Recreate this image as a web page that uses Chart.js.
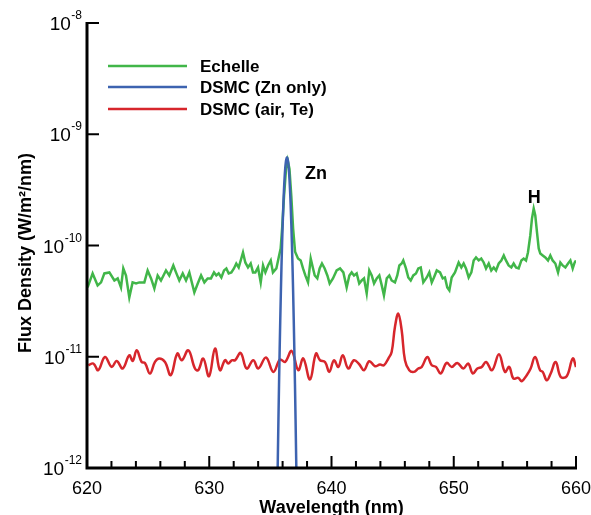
<!DOCTYPE html>
<html>
<head>
<meta charset="utf-8">
<script src="https://cdn.jsdelivr.net/npm/chart.js@4/dist/chart.umd.min.js"></script>
<style>
  html, body { margin: 0; padding: 0; background: #fff; overflow: hidden; }
  canvas { display: block; }
</style>
</head>
<body>
<canvas id="c" width="591" height="515"></canvas>
<script>
// ---------------- DATA ----------------
const seriesNames = ['Echelle', 'DSMC (Zn only)', 'DSMC (air, Te)'];

const echelleWl = [
  620.05,620.46,620.87,621.15,621.42,621.83,622.24,622.51,622.78,622.97,
  623.19,623.46,623.73,624.01,624.28,624.69,624.96,625.24,625.51,625.78,
  626.05,626.46,626.73,627.06,627.28,627.55,627.83,628.10,628.37,628.78,
  629.06,629.33,629.60,629.87,630.14,
  630.39,630.58,630.77,630.99,631.21,631.40,631.59,631.81,632.02,632.21,
  632.41,632.62,632.76,632.95,633.17,633.39,633.58,633.77,633.99,634.21,
  634.40,634.59,634.81,635.03,635.21,635.49,635.68,635.84,635.96,636.12,
  636.27,636.42,636.56,636.71,636.86,637.02,637.26,637.48,637.67,637.86,
  638.08,638.30,638.49,638.63,638.84,639.03,639.22,639.44,639.66,639.85,
  640.12,
  640.42,640.70,640.97,641.24,641.46,641.65,641.84,642.06,642.27,642.47,
  642.66,642.88,643.09,643.29,643.48,643.70,643.91,644.11,644.29,644.52,
  644.73,644.92,645.19,645.38,645.55,645.74,645.87,646.09,646.28,646.48,
  646.69,646.91,647.10,647.30,647.51,647.79,648.00,648.20,648.38,648.61,
  648.88,649.10,649.28,649.47,649.64,649.83,650.10,
  650.40,650.62,650.81,651.00,651.22,651.44,651.63,651.82,652.04,652.25,
  652.45,652.64,652.86,653.07,653.27,653.46,653.68,653.89,654.09,654.27,
  654.49,654.71,654.90,655.09,655.31,655.53,655.72,655.91,656.07,656.26,
  656.40,656.54,656.67,656.81,656.95,657.08,657.28,657.49,657.71,657.90,
  658.09,658.31,658.53,658.72,658.91,659.13,659.35,659.54,659.73,659.89,
  660.00
];
const echelleFlux = [
  4.20e-11,5.61e-11,4.38e-11,4.66e-11,5.61e-11,5.73e-11,4.85e-11,5.06e-11,4.20e-11,6.22e-11,
  5.38e-11,3.42e-11,4.66e-11,4.56e-11,4.66e-11,4.66e-11,5.97e-11,5.06e-11,4.11e-11,5.38e-11,
  4.85e-11,5.97e-11,5.38e-11,6.62e-11,5.73e-11,4.85e-11,5.61e-11,4.85e-11,5.73e-11,3.79e-11,
  4.56e-11,5.38e-11,4.66e-11,5.06e-11,5.06e-11,
  5.73e-11,5.38e-11,5.61e-11,5.16e-11,5.97e-11,6.22e-11,5.61e-11,5.73e-11,6.22e-11,6.89e-11,
  6.35e-11,7.64e-11,8.65e-11,7.04e-11,6.35e-11,6.89e-11,5.73e-11,5.73e-11,6.35e-11,4.66e-11,
  6.62e-11,5.73e-11,6.62e-11,7.34e-11,5.73e-11,6.22e-11,7.80e-11,9.40e-11,1.42e-10,2.81e-10,
  4.71e-10,5.78e-10,4.90e-10,2.81e-10,1.42e-10,8.80e-11,7.64e-11,7.34e-11,6.22e-11,5.38e-11,
  4.66e-11,7.64e-11,6.22e-11,5.38e-11,5.06e-11,6.22e-11,6.89e-11,6.22e-11,5.38e-11,4.56e-11,
  5.06e-11,
  5.97e-11,6.22e-11,5.73e-11,4.20e-11,5.38e-11,5.73e-11,5.38e-11,5.61e-11,4.56e-11,4.85e-11,
  5.06e-11,3.71e-11,5.97e-11,5.38e-11,4.56e-11,5.06e-11,5.38e-11,4.38e-11,3.56e-11,5.06e-11,
  5.38e-11,4.85e-11,4.66e-11,5.38e-11,6.62e-11,6.89e-11,7.34e-11,6.22e-11,5.16e-11,4.85e-11,
  5.38e-11,5.61e-11,6.22e-11,6.35e-11,4.66e-11,5.16e-11,5.73e-11,4.66e-11,5.16e-11,5.97e-11,
  5.73e-11,5.06e-11,5.16e-11,4.20e-11,3.95e-11,5.16e-11,5.73e-11,
  7.04e-11,6.35e-11,6.89e-11,6.22e-11,5.16e-11,5.73e-11,7.34e-11,7.80e-11,7.34e-11,7.64e-11,
  7.04e-11,6.22e-11,6.89e-11,5.97e-11,6.35e-11,5.97e-11,6.89e-11,7.34e-11,8.13e-11,7.34e-11,
  6.62e-11,6.35e-11,6.89e-11,6.35e-11,6.22e-11,7.34e-11,7.64e-11,7.34e-11,8.65e-11,1.23e-10,
  1.75e-10,2.15e-10,1.86e-10,1.31e-10,9.40e-11,8.47e-11,8.13e-11,7.80e-11,7.34e-11,8.13e-11,
  7.34e-11,6.89e-11,5.73e-11,7.04e-11,6.62e-11,6.35e-11,6.89e-11,7.34e-11,6.22e-11,7.04e-11,
  7.34e-11
];

const zincWl = [
  635.36,635.46,635.56,635.66,635.76,635.86,635.96,636.06,636.16,636.26,636.36,
  636.46,636.56,636.66,636.76,636.86,636.96,637.06,637.16,637.26,637.36
];
const zincFlux = [
  9.8e-15,8.0e-14,5.2e-13,2.75e-12,1.16e-11,3.9e-11,1.06e-10,2.3e-10,4.0e-10,5.55e-10,6.2e-10,
  5.55e-10,4.0e-10,2.3e-10,1.06e-10,3.9e-11,1.16e-11,2.75e-12,5.2e-13,8.0e-14,9.8e-15
];

const airWl = [
  620.11,620.52,620.92,621.47,622.02,622.43,622.92,623.46,623.74,624.07,
  624.47,624.74,625.15,625.56,625.91,626.38,626.85,627.39,627.75,628.29,
  628.83,629.10,629.51,629.98,630.47,630.88,631.29,631.56,631.84,632.11,
  632.57,633.06,633.60,634.01,634.64,635.24,635.79,636.20,636.74,637.28,
  637.69,638.24,638.73,639.06,639.47,639.82,640.20,640.56,640.92,641.37,
  641.84,642.27,642.66,643.09,643.56,643.97,644.29,644.65,644.92,645.19,
  645.46,645.74,646.01,646.36,646.75,647.10,647.38,647.84,648.20,648.55,
  648.93,649.42,649.83,650.29,650.78,651.19,651.55,651.93,652.29,652.64,
  653.13,653.70,654.19,654.54,654.87,655.28,655.56,655.97,656.29,656.65,
  657.06,657.28,657.61,657.93,658.34,658.75,659.24,659.73,660.00
];
const airFlux = [
  8.39e-12,8.69e-12,7.57e-12,9.96e-12,8.10e-12,9.17e-12,7.84e-12,1.03e-11,9.17e-12,1.144e-11,
  8.98e-12,8.80e-12,7.07e-12,8.98e-12,9.64e-12,8.98e-12,6.83e-12,1.068e-11,9.30e-12,1.144e-11,
  7.84e-12,7.57e-12,9.64e-12,6.68e-12,1.184e-11,7.57e-12,9.30e-12,8.69e-12,9.30e-12,9.30e-12,
  1.081e-11,7.84e-12,9.30e-12,7.84e-12,9.84e-12,7.31e-12,9.44e-12,8.98e-12,1.127e-11,7.57e-12,
  9.64e-12,6.25e-12,1.068e-11,9.30e-12,8.98e-12,7.31e-12,9.30e-12,8.10e-12,1.03e-11,7.84e-12,
  9.30e-12,8.56e-12,7.57e-12,9.11e-12,8.22e-12,8.51e-12,8.39e-12,9.64e-12,1.104e-11,1.85e-11,
  2.44e-11,1.73e-11,9.30e-12,7.57e-12,7.31e-12,7.84e-12,8.10e-12,9.96e-12,8.39e-12,8.10e-12,
  7.07e-12,8.80e-12,8.10e-12,8.80e-12,7.84e-12,8.69e-12,7.07e-12,7.84e-12,8.10e-12,8.98e-12,
  7.57e-12,1.053e-11,7.31e-12,8.10e-12,6.37e-12,6.46e-12,6.03e-12,6.83e-12,7.84e-12,9.96e-12,
  7.57e-12,7.31e-12,6.15e-12,7.07e-12,8.98e-12,6.59e-12,6.68e-12,9.64e-12,8.10e-12
];

const xTickValues = [620, 630, 640, 650, 660];
const xMinorTicks = [622,624,626,628,632,634,636,638,642,644,646,648,652,654,656,658];
const yDecadeExponents = [-8, -9, -10, -11, -12];
const yMinorMantissas = [2,3,4,5,6,7,8,9];
const peakLabels = [
  { text: 'Zn', x: 636.36, y: 6.2e-10 },
  { text: 'H',  x: 656.54, y: 2.15e-10 }
];

// ---------------- STYLE ----------------
const FONT = '"Liberation Sans", Arial, Helvetica, sans-serif';
const GREEN = '#41b649';
const BLUE = '#3d63b0';
const RED = '#d7262c';

function pairs(xs, ys) { return xs.map((x, i) => ({ x: x, y: ys[i] })); }

const decor = {
  id: 'decor',
  afterDraw(chart) {
    const ctx = chart.ctx;
    const xs = chart.scales.x, ys = chart.scales.y;
    const a = chart.chartArea;
    ctx.save();
    ctx.strokeStyle = '#000';
    ctx.fillStyle = '#000';

    // ticks (inside)
    ctx.lineWidth = 2;
    ctx.beginPath();
    yDecadeExponents.forEach(e => {
      const py = ys.getPixelForValue(Math.pow(10, e));
      ctx.moveTo(a.left, py); ctx.lineTo(a.left + 12, py);
      if (e > -8) {
        yMinorMantissas.forEach(m => {
          const p = ys.getPixelForValue(m * Math.pow(10, e));
          ctx.moveTo(a.left, p); ctx.lineTo(a.left + 7, p);
        });
      }
    });
    xTickValues.forEach(v => {
      const px = xs.getPixelForValue(v);
      ctx.moveTo(px, a.bottom); ctx.lineTo(px, a.bottom - 12);
    });
    xMinorTicks.forEach(v => {
      const px = xs.getPixelForValue(v);
      ctx.moveTo(px, a.bottom); ctx.lineTo(px, a.bottom - 7);
    });
    ctx.stroke();

    // axis lines
    ctx.lineWidth = 3;
    ctx.beginPath();
    ctx.moveTo(a.left, a.top - 1);
    ctx.lineTo(a.left, a.bottom);
    ctx.lineTo(a.right + 1, a.bottom);
    ctx.stroke();

    // x tick labels
    ctx.font = '18px ' + FONT;
    ctx.textAlign = 'center';
    ctx.textBaseline = 'alphabetic';
    xTickValues.forEach(v => {
      ctx.fillText(String(v), xs.getPixelForValue(v), a.bottom + 26);
    });

    // y tick labels 10^e
    yDecadeExponents.forEach(e => {
      const py = ys.getPixelForValue(Math.pow(10, e));
      const sup = '-' + String(-e);
      ctx.font = '12px ' + FONT;
      const sw = ctx.measureText(sup).width;
      const xr = 82;
      ctx.textAlign = 'left';
      ctx.textBaseline = 'alphabetic';
      ctx.fillText(sup, xr - sw, py - 4);
      ctx.font = '19px ' + FONT;
      ctx.textAlign = 'right';
      ctx.fillText('10', xr - sw - 0.5, py + 7);
    });

    // axis titles
    ctx.font = 'bold 18px ' + FONT;
    ctx.textAlign = 'center';
    ctx.textBaseline = 'alphabetic';
    ctx.fillText('Wavelength (nm)', (a.left + a.right) / 2, 513);
    ctx.save();
    ctx.translate(31, 253);
    ctx.rotate(-Math.PI / 2);
    ctx.fillText('Flux Density (W/m\u00B2/nm)', 0, 0);
    ctx.restore();

    // legend
    const legendY = [66, 87, 109];
    chart.data.datasets.forEach((ds, i) => {
      ctx.strokeStyle = ds.borderColor;
      ctx.lineWidth = 2.5;
      ctx.beginPath();
      ctx.moveTo(108, legendY[i]); ctx.lineTo(187, legendY[i]);
      ctx.stroke();
      ctx.font = 'bold 17px ' + FONT;
      ctx.textAlign = 'left';
      ctx.textBaseline = 'middle';
      ctx.fillStyle = '#000';
      ctx.fillText(ds.label, 200, legendY[i] + 1);
    });

    // peak labels
    ctx.font = 'bold 18px ' + FONT;
    ctx.textAlign = 'left';
    ctx.textBaseline = 'middle';
    ctx.fillText(peakLabels[0].text, xs.getPixelForValue(peakLabels[0].x) + 18, ys.getPixelForValue(peakLabels[0].y) + 17);
    ctx.textAlign = 'center';
    ctx.fillText(peakLabels[1].text, xs.getPixelForValue(peakLabels[1].x) + 0.5, ys.getPixelForValue(peakLabels[1].y) - 10);
    ctx.restore();
  }
};

new Chart(document.getElementById('c'), {
  type: 'line',
  data: {
    datasets: [
      { label: seriesNames[0], data: pairs(echelleWl, echelleFlux), borderColor: GREEN, borderWidth: 2.5,
        pointRadius: 0, tension: 0, order: 2, fill: false },
      { label: seriesNames[1], data: pairs(zincWl, zincFlux), borderColor: BLUE, borderWidth: 2.5,
        pointRadius: 0, tension: 0.3, order: 0, fill: false },
      { label: seriesNames[2], data: pairs(airWl, airFlux), borderColor: RED, borderWidth: 2.5,
        pointRadius: 0, tension: 0.4, order: 1, fill: false }
    ]
  },
  options: {
    responsive: false,
    animation: false,
    devicePixelRatio: 1,
    layout: { padding: { left: 0, right: 15, top: 23, bottom: 0 }, autoPadding: false },
    plugins: { legend: { display: false }, tooltip: { enabled: false } },
    scales: {
      x: {
        type: 'linear', min: 620, max: 660,
        afterBuildTicks: s => { s.ticks = xTickValues.map(v => ({ value: v })); },
        ticks: { display: false },
        grid: { display: false, drawTicks: false },
        border: { display: false },
        afterFit: s => { s.height = 47; s.paddingLeft = 0; s.paddingRight = 0; }
      },
      y: {
        type: 'logarithmic', min: 1e-12, max: 1e-8,
        ticks: { display: false },
        grid: { display: false, drawTicks: false },
        border: { display: false },
        afterFit: s => { s.width = 87; s.paddingTop = 0; s.paddingBottom = 0; }
      }
    }
  },
  plugins: [decor]
});
</script>
</body>
</html>
